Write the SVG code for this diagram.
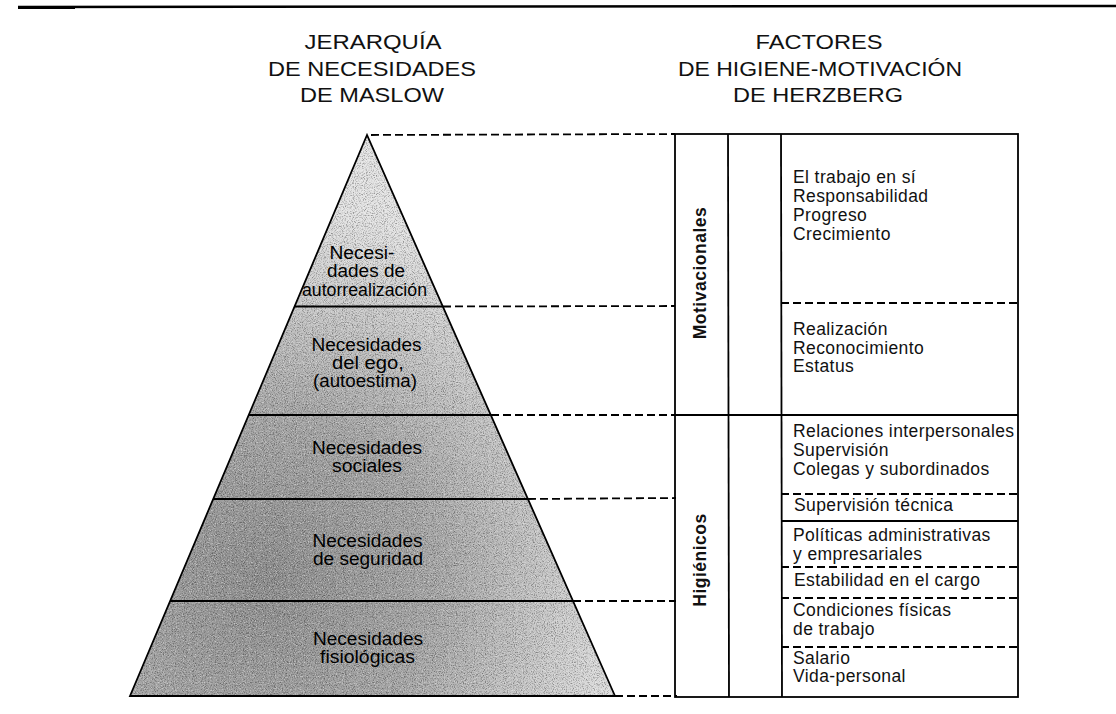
<svg xmlns="http://www.w3.org/2000/svg" width="1116" height="714" viewBox="0 0 1116 714">
<style>
.hdr{font-family:"Liberation Sans",Arial,sans-serif;font-size:21px;fill:#111;text-anchor:middle}
.pt{font-family:"Liberation Sans",Arial,sans-serif;font-size:17.5px;fill:#000;text-anchor:middle}
.ct{font-family:"Liberation Sans",Arial,sans-serif;font-size:17.5px;letter-spacing:0.4px;fill:#111}
.vt{font-family:"Liberation Sans",Arial,sans-serif;font-size:17.5px;font-weight:bold;letter-spacing:0.5px;fill:#111;text-anchor:middle}
.solid{stroke:#000;stroke-width:1.8;fill:none}
.dash{stroke:#000;stroke-width:1.8;fill:none;stroke-dasharray:8 4}
</style>
<defs>
<radialGradient id="shade" cx="270" cy="580" r="380" gradientUnits="userSpaceOnUse">
<stop offset="0" stop-color="#8e8e8e"/>
<stop offset="0.45" stop-color="#a8a8a8"/>
<stop offset="0.8" stop-color="#d0d0d0"/>
<stop offset="1" stop-color="#e4e4e4"/>
</radialGradient>
<clipPath id="pyrclip"><polygon points="367,135 130,696 615,696"/></clipPath>
<filter id="grain" x="0" y="0" width="1" height="1">
<feTurbulence type="fractalNoise" baseFrequency="0.9" numOctaves="2" seed="5" result="t"/>
<feColorMatrix in="t" type="matrix" values="0 0 0 0 0  0 0 0 0 0  0 0 0 0 0  0 0 0 -3 1.6"/>
</filter>
<filter id="grain2" x="0" y="0" width="1" height="1">
<feTurbulence type="fractalNoise" baseFrequency="0.85" numOctaves="2" seed="11" result="t"/>
<feColorMatrix in="t" type="matrix" values="0 0 0 0 1  0 0 0 0 1  0 0 0 0 1  0 0 0 -3 1.5"/>
</filter>
</defs>
<rect width="1116" height="714" fill="#fff"/>
<g id="top-rule">
<line x1="18" y1="7" x2="1116" y2="6" stroke="#000" stroke-width="2.5"/>
<line x1="18" y1="8" x2="75" y2="8" stroke="#000" stroke-width="2"/>
</g>
<g id="header-maslow">
<text class="hdr" x="373" y="49" textLength="137" lengthAdjust="spacingAndGlyphs">JERARQUÍA</text>
<text class="hdr" x="372" y="75.5" textLength="208" lengthAdjust="spacingAndGlyphs">DE NECESIDADES</text>
<text class="hdr" x="372" y="101.5" textLength="144" lengthAdjust="spacingAndGlyphs">DE MASLOW</text>
</g>
<g id="header-herzberg">
<text class="hdr" x="819" y="49" textLength="127" lengthAdjust="spacingAndGlyphs">FACTORES</text>
<text class="hdr" x="820" y="75.5" textLength="284" lengthAdjust="spacingAndGlyphs">DE HIGIENE-MOTIVACIÓN</text>
<text class="hdr" x="818" y="101.5" textLength="170" lengthAdjust="spacingAndGlyphs">DE HERZBERG</text>
</g>
<g id="pyramid">
<polygon points="367,135 130,696 615,696" fill="url(#shade)"/>
<g clip-path="url(#pyrclip)">
<rect x="120" y="130" width="500" height="570" filter="url(#grain)" opacity="0.35"/>
<rect x="120" y="130" width="500" height="570" filter="url(#grain2)" opacity="0.45"/>
</g>
<polygon class="solid" points="367,135 130,696 615,696"/>
<g id="level-autorrealizacion">
<text class="pt" x="362" y="259" textLength="65" lengthAdjust="spacingAndGlyphs">Necesi-</text>
<text class="pt" x="366" y="277" textLength="78" lengthAdjust="spacingAndGlyphs">dades de</text>
<text class="pt" x="364.5" y="296" textLength="125" lengthAdjust="spacingAndGlyphs">autorrealización</text>
</g>
<line class="solid" x1="294.5" y1="306.5" x2="442.8" y2="306.5"/>
<g id="level-ego">
<text class="pt" x="366.5" y="351" textLength="110" lengthAdjust="spacingAndGlyphs">Necesidades</text>
<text class="pt" x="368" y="369" textLength="72" lengthAdjust="spacingAndGlyphs">del ego,</text>
<text class="pt" x="365" y="387" textLength="104" lengthAdjust="spacingAndGlyphs">(autoestima)</text>
</g>
<line class="solid" x1="248.7" y1="415" x2="490.8" y2="415"/>
<g id="level-sociales">
<text class="pt" x="367" y="454" textLength="110" lengthAdjust="spacingAndGlyphs">Necesidades</text>
<text class="pt" x="367" y="472" textLength="70" lengthAdjust="spacingAndGlyphs">sociales</text>
</g>
<line class="solid" x1="213.2" y1="499" x2="527.9" y2="499"/>
<g id="level-seguridad">
<text class="pt" x="367.5" y="547" textLength="110" lengthAdjust="spacingAndGlyphs">Necesidades</text>
<text class="pt" x="368" y="565" textLength="110" lengthAdjust="spacingAndGlyphs">de seguridad</text>
</g>
<line class="solid" x1="170.1" y1="601" x2="573" y2="601"/>
<g id="level-fisiologicas">
<text class="pt" x="368" y="645" textLength="110" lengthAdjust="spacingAndGlyphs">Necesidades</text>
<text class="pt" x="367.5" y="663" textLength="95" lengthAdjust="spacingAndGlyphs">fisiológicas</text>
</g>
</g>
<g id="connectors">
<line class="dash" x1="371" y1="135" x2="675" y2="134"/>
<line class="dash" x1="443" y1="306.5" x2="675" y2="306"/>
<line class="dash" x1="491" y1="415" x2="675" y2="415"/>
<line class="dash" x1="528" y1="499" x2="676" y2="498"/>
<line class="dash" x1="573" y1="601" x2="676" y2="601"/>
<line class="dash" x1="615" y1="696" x2="677" y2="696"/>
</g>
<g id="table">
<rect class="solid" x="675" y="134" width="343" height="563"/>
<line class="solid" x1="728" y1="134" x2="729" y2="697"/>
<line class="solid" x1="781" y1="134" x2="782" y2="697"/>
<line class="solid" x1="675" y1="415" x2="1018" y2="415"/>
<line class="solid" x1="781" y1="521" x2="1018" y2="521"/>
<line class="dash" x1="781" y1="303" x2="1018" y2="303"/>
<line class="dash" x1="781" y1="494" x2="1018" y2="494"/>
<line class="dash" x1="781" y1="567" x2="1018" y2="567"/>
<line class="dash" x1="781" y1="598" x2="1018" y2="598"/>
<line class="dash" x1="781" y1="647" x2="1018" y2="647"/>
</g>
<g id="group-motivacionales">
<text class="vt" transform="translate(706,273) rotate(-90)">Motivacionales</text>
</g>
<g id="group-higienicos">
<text class="vt" transform="translate(706,560) rotate(-90)">Higiénicos</text>
</g>
<g id="cell-trabajo">
<text class="ct" x="793" y="183">El trabajo en sí</text>
<text class="ct" x="793" y="202">Responsabilidad</text>
<text class="ct" x="793" y="221">Progreso</text>
<text class="ct" x="793" y="240">Crecimiento</text>
</g>
<g id="cell-realizacion">
<text class="ct" x="793" y="335">Realización</text>
<text class="ct" x="793" y="353.5">Reconocimiento</text>
<text class="ct" x="793" y="372">Estatus</text>
</g>
<g id="cell-relaciones">
<text class="ct" x="793" y="437">Relaciones interpersonales</text>
<text class="ct" x="793" y="456">Supervisión</text>
<text class="ct" x="793" y="474.5">Colegas y subordinados</text>
</g>
<g id="cell-supervision">
<text class="ct" x="794" y="510.5">Supervisión técnica</text>
</g>
<g id="cell-politicas">
<text class="ct" x="793" y="541">Políticas administrativas</text>
<text class="ct" x="793" y="560">y empresariales</text>
</g>
<g id="cell-estabilidad">
<text class="ct" x="794" y="586">Estabilidad en el cargo</text>
</g>
<g id="cell-condiciones">
<text class="ct" x="793" y="616">Condiciones físicas</text>
<text class="ct" x="793" y="635">de trabajo</text>
</g>
<g id="cell-salario">
<text class="ct" x="793" y="664">Salario</text>
<text class="ct" x="793" y="682">Vida-personal</text>
</g>
</svg>
